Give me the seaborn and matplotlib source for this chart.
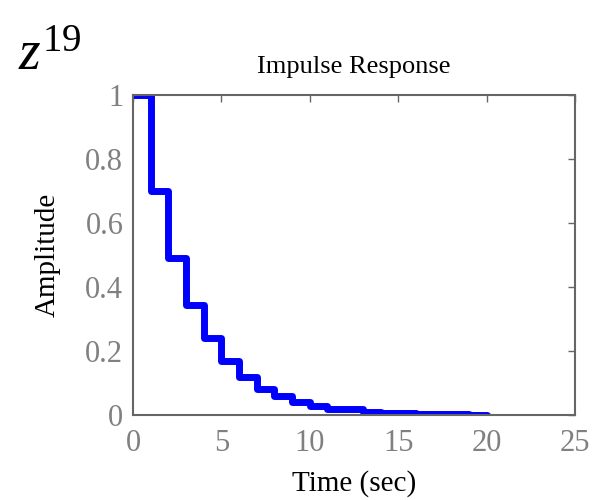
import matplotlib
matplotlib.use("Agg")
import matplotlib.pyplot as plt
import seaborn as sns
import pandas as pd

time_sec = [0, 1, 2, 3, 4, 5, 6, 7, 8, 9, 10, 11, 12, 13, 14, 15, 16, 17, 18, 19, 20]
amplitude = [1.0, 0.7, 0.49, 0.343, 0.24, 0.168, 0.118, 0.082, 0.058, 0.040,
             0.028, 0.020, 0.018, 0.010, 0.007, 0.005, 0.003, 0.002, 0.002, 0.001, 0.001]
x_ticks = [0, 5, 10, 15, 20, 25]
y_ticks = [0, 0.2, 0.4, 0.6, 0.8, 1]
y_tick_labels = ["0", "0.2", "0.4", "0.6", "0.8", "1"]

sns.set_style("white")
plt.rcParams["font.family"] = ["Liberation Serif", "DejaVu Serif"]
plt.rcParams["mathtext.fontset"] = "custom"
plt.rcParams["mathtext.it"] = "Liberation Serif:italic"
plt.rcParams["mathtext.rm"] = "Liberation Serif"

df = pd.DataFrame({"t": time_sec, "a": amplitude})

fig = plt.figure(figsize=(5.98, 5.0), dpi=100)
ax = fig.add_axes([0.2224, 0.17, 0.7391, 0.64])
sns.lineplot(data=df, x="t", y="a", ax=ax, color="#0000ff", linewidth=5,
             drawstyle="steps-post", solid_joinstyle="round", solid_capstyle="round")

ax.set_xlim(0, 25)
ax.set_ylim(0, 1)
ax.set_xticks(x_ticks)
ax.set_yticks(y_ticks)
ax.set_yticklabels(y_tick_labels)
gray = "#808080"
for s in ax.spines.values():
    s.set_color("#666666")
    s.set_linewidth(1.5)
ax.tick_params(direction="in", length=5, width=1, colors="#666666",
               labelcolor=gray, labelsize=22, top=True, right=True, pad=7)
ax.tick_params(axis="x", pad=10)
ax.set_xlabel("Time (sec)", fontsize=21, color="black", labelpad=9)
ax.set_ylabel("Amplitude", fontsize=21, color="black", labelpad=18)
ax.set_title("Impulse Response", fontsize=19, color="black", pad=16)

fig.text(0.03, 0.86, r"$z^{19}$", fontsize=40, color="black")

fig.savefig("out.png", dpi=100)
